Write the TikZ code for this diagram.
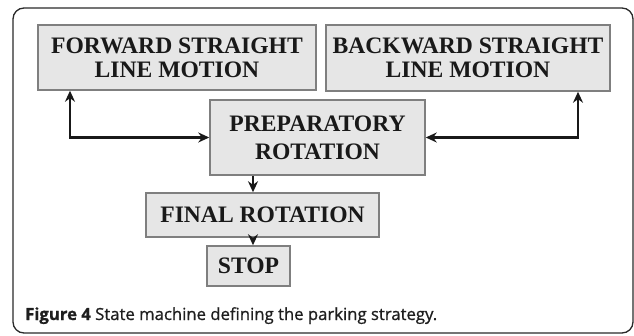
\documentclass[tikz,border=0pt]{standalone}
\usepackage{fontspec}
\setmainfont{Liberation Serif}
\newfontfamily\capfont[FakeBold=0.9]{Open Sans}
\usetikzlibrary{arrows.meta,positioning}
\definecolor{boxfill}{HTML}{E6E6E6}
\definecolor{boxline}{HTML}{7F7F7F}
\definecolor{frameline}{HTML}{2A2A2A}
\definecolor{captext}{HTML}{1E1E1E}
\tikzset{
  statebox/.style={draw=boxline, line width=1.5pt, fill=boxfill, inner sep=0pt,
    align=center, text=black!90, font=\fontsize{23.6}{24}\selectfont\bfseries},
  conn/.style={line width=2.3pt, black!90, -{Stealth[length=11pt,width=10pt]}},
  bconn/.style={line width=2.3pt, black!90, {Stealth[length=11pt,width=10pt]}-{Stealth[length=11pt,width=10pt]}}
}
\begin{document}
\begin{tikzpicture}[x=1pt,y=-1pt]
\useasboundingbox (0,0) rectangle (634,336);
\draw[frameline, line width=1.3pt, rounded corners=11pt] (13,8) rectangle (633,333);
\node[statebox, minimum width=278pt, minimum height=65pt] (fwd) at (177,57.5) {FORWARD STRAIGHT\\LINE MOTION};
\node[statebox, minimum width=284pt, minimum height=66pt] (bwd) at (468,58) {BACKWARD STRAIGHT\\LINE MOTION};
\node[statebox, minimum width=215pt, minimum height=75pt, font=\fontsize{23.6}{28}\selectfont\bfseries] (prep) at (317.5,137.5) {PREPARATORY\\ROTATION};
\node[statebox, minimum width=233pt, minimum height=44pt] (final) at (262.5,215) {FINAL ROTATION};
\node[statebox, minimum width=83pt, minimum height=40pt] (stop) at (248.5,266) {STOP};
\coordinate (lx) at (70,0);
\coordinate (rx) at (578,0);
\coordinate (cx) at (253,0);
\draw[bconn] (fwd.south -| lx) |- (prep.west);
\draw[bconn] (bwd.south -| rx) |- (prep.east);
\draw[conn] (prep.south -| cx) -- (final.north -| cx);
\draw[conn] (final.south -| cx) -- (stop.north -| cx);
\node[anchor=base west, inner sep=0pt, text=captext, font=\capfont\fontsize{16.7}{20}\selectfont] (cap) at (25,320)
  {\textbf{Figure 4} State machine defining the parking strategy.};
\end{tikzpicture}
\end{document}
